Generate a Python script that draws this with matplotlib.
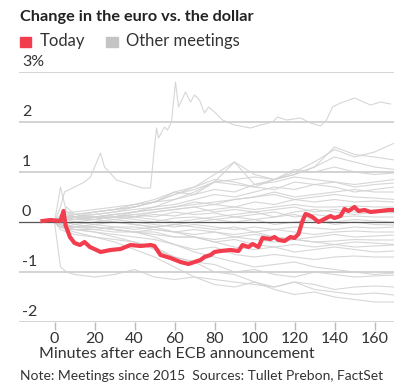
import matplotlib
matplotlib.use("Agg")
import matplotlib.pyplot as plt
import matplotlib.patches as mpatches

plt.rcParams['font.family'] = ['Lato', 'DejaVu Sans']

# minutes after announcement, shared by the grey series
minutes = [-5, 0, 3, 6, 10, 20, 30, 40, 50, 60, 70, 80, 90, 100, 110, 120, 130, 140, 150, 160, 170]

other_meetings = [
    [0, 0, 0.05, 0.1, 0.1, 0.15, 0.2, 0.25, 0.3, 0.45, 0.6, 0.8, 0.75, 0.7, 0.85, 1.0, 1.2, 1.45, 1.3, 1.4, 1.58],
    [0, 0, 0.05, 0.05, 0.1, 0.15, 0.2, 0.3, 0.4, 0.6, 0.55, 0.8, 1.2, 0.75, 0.85, 0.95, 1.1, 1.5, 1.35, 1.3, 1.24],
    [0, 0, 0.1, 0.15, 0.1, 0.2, 0.25, 0.35, 0.4, 0.55, 0.65, 0.8, 0.85, 0.9, 0.85, 1.05, 1.0, 1.1, 1.0, 0.95, 0.98],
    [0, 0.02, 0.1, 0.3, 0.15, 0.1, 0.15, 0.2, 0.3, 0.35, 0.45, 0.55, 0.5, 0.6, 0.7, 0.65, 0.75, 0.8, 0.7, 0.75, 0.78],
    [0, 0, -0.05, 0.1, 0.1, 0.1, 0.15, 0.2, 0.25, 0.3, 0.4, 0.35, 0.45, 0.5, 0.6, 0.5, 0.55, 0.6, 0.65, 0.6, 0.6],
    [0, 0, 0.05, 0.05, 0.05, 0.1, 0.1, 0.15, 0.2, 0.25, 0.3, 0.35, 0.3, 0.4, 0.35, 0.45, 0.4, 0.45, 0.4, 0.42, 0.4],
    [0, 0, 0.0, 0.05, 0.05, 0.05, 0.1, 0.1, 0.15, 0.12, 0.2, 0.25, 0.3, 0.25, 0.3, 0.35, 0.3, 0.3, 0.32, 0.3, 0.3],
    [0, 0, 0.1, 0.05, 0.1, 0.05, 0.1, 0.15, 0.1, 0.2, 0.15, 0.18, 0.1, 0.15, 0.2, 0.1, 0.15, 0.1, 0.12, 0.1, 0.1],
    [0, 0, -0.05, 0.05, 0, 0.05, 0.1, 0.05, 0, 0.08, 0.1, 0.05, 0, 0.05, -0.05, 0, 0.05, -0.05, 0, -0.05, -0.06],
    [0, 0, 0.05, -0.05, -0.1, -0.05, 0, -0.05, -0.1, -0.05, -0.1, -0.15, -0.1, -0.2, -0.15, -0.2, -0.25, -0.2, -0.18, -0.2, -0.2],
    [0, 0, -0.1, -0.1, -0.1, -0.1, -0.15, -0.2, -0.15, -0.2, -0.25, -0.2, -0.3, -0.25, -0.3, -0.35, -0.3, -0.25, -0.3, -0.28, -0.26],
    [0, 0, -0.05, -0.1, -0.1, -0.1, -0.15, -0.2, -0.2, -0.3, -0.3, -0.35, -0.3, -0.35, -0.4, -0.35, -0.4, -0.38, -0.35, -0.36, -0.36],
    [0, 0, -0.1, -0.1, -0.15, -0.15, -0.2, -0.2, -0.25, -0.3, -0.3, -0.4, -0.35, -0.45, -0.5, -0.45, -0.5, -0.45, -0.5, -0.48, -0.46],
    [0, 0, -0.1, -0.15, -0.15, -0.2, -0.25, -0.3, -0.35, -0.45, -0.55, -0.5, -0.65, -0.7, -0.65, -0.7, -0.75, -0.7, -0.68, -0.7, -0.7],
    [0, 0, -0.15, -0.2, -0.25, -0.3, -0.35, -0.4, -0.55, -0.7, -0.8, -0.85, -1.0, -0.95, -1.05, -1.1, -1.0, -1.05, -1.1, -1.08, -1.06],
    [0, 0, -0.9, -1.0, -1.05, -1.1, -1.05, -0.95, -1.1, -1.15, -1.1, -1.15, -1.2, -1.25, -1.3, -1.2, -1.25, -1.35, -1.3, -1.28, -1.3],
    [0, 0, -0.05, -0.1, -0.15, -0.2, -0.3, -0.4, -0.5, -0.7, -0.8, -1.0, -1.05, -1.2, -1.3, -1.2, -1.35, -1.4, -1.45, -1.42, -1.46],
    [0, 0, -0.1, -0.15, -0.2, -0.3, -0.4, -0.55, -0.7, -0.9, -1.1, -1.25, -1.3, -1.2, -1.35, -1.45, -1.4, -1.5, -1.55, -1.6, -1.6],
    [0, 0, 0.05, 0.1, 0.15, 0.2, 0.25, 0.3, 0.4, 0.55, 0.7, 0.95, 1.2, 0.95, 0.85, 0.95, 1.1, 1.3, 1.2, 1.1, 1.05],
    [0, 0, 0.05, 0.2, 0.1, 0.05, 0.0, -0.05, -0.1, -0.2, -0.3, -0.4, -0.5, -0.55, -0.5, -0.6, -0.55, -0.5, -0.55, -0.6, -0.58],
    [0, 0, 0.1, 0.15, 0.1, 0.1, 0.1, 0.2, 0.25, 0.3, 0.35, 0.4, 0.45, 0.5, 0.55, 0.45, 0.5, 0.55, 0.5, 0.48, 0.45],
    [0, 0, 0.0, 0.05, 0.05, 0.1, 0.05, 0.0, -0.05, -0.1, -0.05, -0.1, -0.15, -0.1, -0.15, -0.1, -0.12, -0.15, -0.1, -0.12, -0.1],
    [0, 0, 0.7, 0.2, 0.15, 0.2, 0.25, 0.3, 0.4, 0.45, 0.55, 0.65, 0.6, 0.75, 0.8, 0.9, 0.85, 0.8, 0.75, 0.8, 0.85],
    [0, 0, -0.05, -0.1, -0.05, -0.1, -0.15, -0.2, -0.3, -0.45, -0.6, -0.7, -0.8, -0.9, -0.85, -0.8, -0.9, -0.95, -1.0, -1.05, -1.02],
    [0, 0, 0.05, 0.0, -0.05, 0.0, 0.05, 0.1, 0.05, 0.0, 0.05, 0.1, 0.15, 0.2, 0.1, 0.15, 0.05, 0.0, 0.05, 0.02, 0.0],
    [0, 0, -0.05, -0.1, -0.1, -0.15, -0.1, -0.1, -0.15, -0.2, -0.15, -0.2, -0.25, -0.2, -0.3, -0.35, -0.4, -0.45, -0.4, -0.42, -0.45],
    [0, 0, 0.15, 0.2, 0.2, 0.25, 0.3, 0.35, 0.45, 0.6, 0.7, 0.85, 0.8, 0.7, 0.65, 0.8, 0.75, 0.7, 0.6, 0.65, 0.7],
    [0, 0, -0.1, -0.05, 0.0, -0.05, -0.1, -0.15, -0.1, -0.05, 0.0, 0.05, 0.1, 0.05, 0.1, 0.2, 0.25, 0.2, 0.15, 0.2, 0.18],
    [0, 0, 0.05, 0.1, 0.05, 0.1, 0.15, 0.1, 0.2, 0.25, 0.3, 0.2, 0.25, 0.2, 0.25, 0.3, 0.2, 0.25, 0.2, 0.22, 0.2],
]

# the meeting that jumped above 2%
big_minutes = [-5, 0, 3, 5, 10, 15, 18, 23, 25, 31, 39, 44, 48, 49.5, 51, 52, 55, 56.5, 58.5, 60.5, 62, 65.5,
               68, 70, 72.5, 75, 77, 80, 84, 90, 98, 103, 109, 111.5, 116, 123, 128, 133, 136, 139, 143, 150,
               158, 163, 168]
big_values = [0, 0, 0.3, 0.6, 0.7, 0.8, 0.9, 1.38, 1.1, 0.84, 0.74, 0.68, 0.68, 1.3, 1.88, 1.68, 1.9, 1.84,
              2.0, 2.8, 2.3, 2.6, 2.4, 2.54, 2.44, 2.18, 2.3, 2.2, 2.04, 1.94, 1.88, 1.94, 2.0, 2.1, 2.04, 2.08,
              1.98, 1.92, 2.04, 2.3, 2.38, 2.48, 2.34, 2.4, 2.36]

today_minutes = [-6, -2, 3, 4.5, 5.5, 7.7, 10, 12.7, 15, 17.7, 21, 23, 28, 33, 38, 43, 48, 50, 53, 58, 63,
                 67, 70, 73, 75, 78, 80, 83, 88, 92, 94, 97, 99, 102, 104, 108, 110, 112, 115, 118, 120, 122,
                 124, 125.5, 127, 129, 132, 135, 138, 140, 143, 145, 147, 150, 152, 155, 158, 163, 167, 170]
today_values = [0.02, 0.04, 0.02, 0.22, -0.06, -0.3, -0.42, -0.46, -0.4, -0.5, -0.56, -0.6, -0.56, -0.54,
                -0.46, -0.48, -0.46, -0.48, -0.66, -0.72, -0.8, -0.84, -0.8, -0.76, -0.7, -0.66, -0.6,
                -0.58, -0.56, -0.58, -0.46, -0.5, -0.44, -0.5, -0.32, -0.34, -0.3, -0.36, -0.38, -0.3,
                -0.32, -0.24, 0.02, 0.16, 0.14, 0.1, 0.0, 0.06, 0.12, 0.08, 0.12, 0.26, 0.22, 0.3, 0.22,
                0.24, 0.2, 0.22, 0.24, 0.24]

x_ticks = [0, 20, 40, 60, 80, 100, 120, 140, 160]
y_grid = [3, 2, 1, 0, -1, -2]
y_labels = ['3%', '2', '1', '0', '-1', '-2']

red = '#f23d4f'
grey = '#d2d2d2'
text_col = '#333333'

fig = plt.figure(figsize=(4.0, 3.88), dpi=100)
ax = fig.add_axes([19 / 400, 66 / 388, 375 / 400, 250 / 388])
ax.set_xlim(-17.75, 169.75)
ax.set_ylim(-2, 3)

for v in y_grid:
    if v == 0:
        ax.axhline(v, color='#555555', lw=0.9, zorder=3)
    else:
        ax.axhline(v, color='#cccccc', lw=1.2, zorder=0)

for series in other_meetings:
    ax.plot(minutes, series, color=grey, lw=0.8, alpha=0.9, zorder=2)
ax.plot(big_minutes, big_values, color=grey, lw=0.8, alpha=0.9, zorder=2)
ax.plot(today_minutes, today_values, color=red, lw=3, solid_joinstyle='round', zorder=4)

for v, lab in zip(y_grid, y_labels):
    ax.text(0.008, v + 0.05, lab, transform=ax.get_yaxis_transform(), ha='left', va='bottom',
            fontsize=11.5, color=text_col)

for s in ax.spines.values():
    s.set_visible(False)
ax.set_yticks([])
ax.set_xticks(x_ticks)
ax.tick_params(axis='x', length=6, color='#bbbbbb', width=1, labelsize=11.5, labelcolor=text_col, pad=1)
ax.set_xlabel('Minutes after each ECB announcement', fontsize=11.5, color=text_col)
ax.xaxis.set_label_coords(0.42, -0.102)

fig.text(20 / 400, 1 - 21 / 388, 'Change in the euro vs. the dollar', fontsize=11.7, fontweight='bold',
         color='#222222', va='baseline', ha='left')
fig.patches.append(mpatches.Rectangle((19.5 / 400, 1 - 47 / 388), 11.5 / 400, 10 / 388, color=red,
                                      transform=fig.transFigure, figure=fig))
fig.text(40 / 400, 1 - 46 / 388, 'Today', fontsize=12, color=text_col, va='baseline', ha='left')
fig.patches.append(mpatches.Rectangle((106 / 400, 1 - 47 / 388), 11.5 / 400, 10 / 388, color='#c4c4c4',
                                      transform=fig.transFigure, figure=fig))
fig.text(126 / 400, 1 - 46 / 388, 'Other meetings', fontsize=12, color=text_col, va='baseline', ha='left')
fig.text(20 / 400, 1 - 380 / 388, 'Note: Meetings since 2015  Sources: Tullet Prebon, FactSet',
         fontsize=10, color=text_col, va='baseline', ha='left')

fig.savefig('out.png', dpi=100)
